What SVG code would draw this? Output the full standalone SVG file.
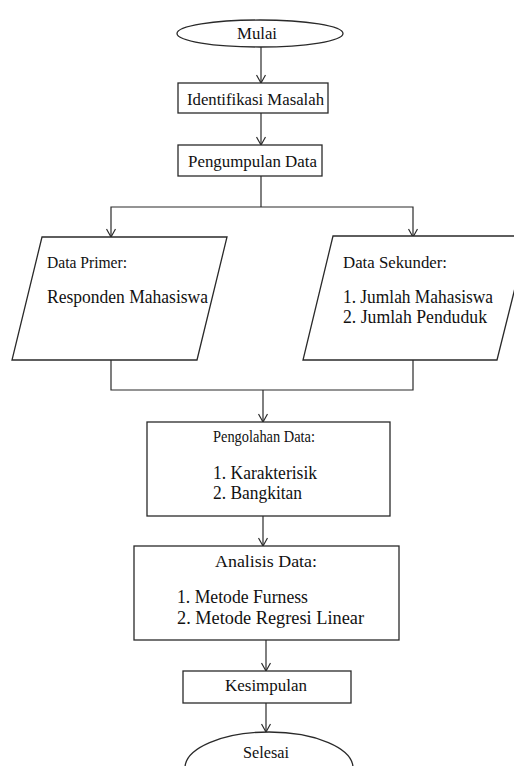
<svg xmlns="http://www.w3.org/2000/svg" width="514" height="766" viewBox="0 0 514 766">
<defs>
<marker id="arr" viewBox="0 0 10 10" refX="9" refY="5" markerWidth="10" markerHeight="10" markerUnits="userSpaceOnUse" orient="auto">
<path d="M1,0.5 L9,5 L1,9.5" fill="none" stroke="#2a2a2a" stroke-width="1.2"/>
</marker>
<style>
.s{fill:#fff;stroke:#2a2a2a;stroke-width:1.3}
.c{fill:none;stroke:#2a2a2a;stroke-width:1.2}
text{font-family:"Liberation Serif","Times New Roman",serif;fill:#111}
.a{font-size:16px}
.b{font-size:18px}
.h{font-size:17px}
</style>
</defs>
<rect width="514" height="766" fill="#fff"/>
<g id="connectors">
<path class="c" d="M261,47 V83" marker-end="url(#arr)"/>
<path class="c" d="M261,113 V145" marker-end="url(#arr)"/>
<path class="c" d="M261,176 V207"/>
<path class="c" d="M261,207 H111 V237" marker-end="url(#arr)"/>
<path class="c" d="M261,207 H413 V237" marker-end="url(#arr)"/>
<path class="c" d="M111,360 V390 H413 V360"/>
<path class="c" d="M263,390 V422" marker-end="url(#arr)"/>
<path class="c" d="M263,516 V546" marker-end="url(#arr)"/>
<path class="c" d="M266,640 V671" marker-end="url(#arr)"/>
<path class="c" d="M266,703 V732" marker-end="url(#arr)"/>
</g>
<g id="mulai">
<ellipse class="s" cx="260" cy="33.5" rx="83" ry="13.5"/>
<text class="a" x="237" y="39" textLength="40" lengthAdjust="spacingAndGlyphs">Mulai</text>
</g>
<g id="identifikasi">
<rect class="s" x="178" y="83" width="150" height="30"/>
<text class="a" x="187" y="105" textLength="137" lengthAdjust="spacingAndGlyphs">Identifikasi Masalah</text>
</g>
<g id="pengumpulan">
<rect class="s" x="178" y="145" width="144" height="31"/>
<text class="a" x="188" y="167" textLength="129" lengthAdjust="spacingAndGlyphs">Pengumpulan Data</text>
</g>
<g id="data-primer">
<polygon class="s" points="42,237 227,237 197,360 12,360"/>
<text class="a" x="47" y="268" textLength="80" lengthAdjust="spacingAndGlyphs">Data Primer:</text>
<text class="b" x="47" y="303" textLength="161" lengthAdjust="spacingAndGlyphs">Responden Mahasiswa</text>
</g>
<g id="data-sekunder">
<polygon class="s" points="333,236 528,236 497,360 303,360"/>
<text class="a" x="343" y="268" textLength="104" lengthAdjust="spacingAndGlyphs">Data Sekunder:</text>
<text class="b" x="343" y="303" textLength="150" lengthAdjust="spacingAndGlyphs">1. Jumlah Mahasiswa</text>
<text class="b" x="343" y="323" textLength="144" lengthAdjust="spacingAndGlyphs">2. Jumlah Penduduk</text>
</g>
<g id="pengolahan">
<rect class="s" x="147" y="422" width="243" height="94"/>
<text class="h" x="213" y="442" textLength="102" lengthAdjust="spacingAndGlyphs">Pengolahan Data:</text>
<text class="b" x="213" y="479" textLength="104" lengthAdjust="spacingAndGlyphs">1. Karakterisik</text>
<text class="b" x="213" y="499" textLength="89" lengthAdjust="spacingAndGlyphs">2. Bangkitan</text>
</g>
<g id="analisis">
<rect class="s" x="134" y="546" width="265" height="94"/>
<text class="h" x="215" y="567" textLength="102" lengthAdjust="spacingAndGlyphs">Analisis Data:</text>
<text class="b" x="177" y="603" textLength="131" lengthAdjust="spacingAndGlyphs">1. Metode Furness</text>
<text class="b" x="177" y="624" textLength="187" lengthAdjust="spacingAndGlyphs">2. Metode Regresi Linear</text>
</g>
<g id="kesimpulan">
<rect class="s" x="183" y="671" width="168" height="32"/>
<text class="a" x="225" y="691" textLength="82" lengthAdjust="spacingAndGlyphs">Kesimpulan</text>
</g>
<g id="selesai">
<ellipse class="s" cx="269" cy="768" rx="84" ry="36"/>
<text class="a" x="243" y="758" textLength="46" lengthAdjust="spacingAndGlyphs">Selesai</text>
</g>
</svg>
